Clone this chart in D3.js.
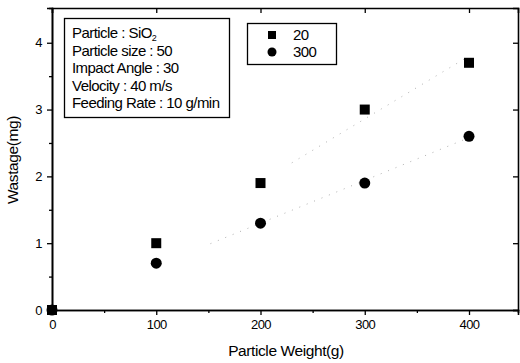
<!DOCTYPE html>
<html>
<head>
<meta charset="utf-8">
<script src="https://cdn.jsdelivr.net/npm/d3@7"></script>
<style>
  body { margin: 0; background: #fff; }
  svg { font-family: "Liberation Sans", Arial, sans-serif; }
</style>
</head>
<body>
<div id="chart"></div>
<script>
const weights = [0, 100, 200, 300, 400];
const wastage20 = [0, 1.0, 1.9, 3.0, 3.7];
const wastage300 = [0, 0.7, 1.3, 1.9, 2.6];
const xTicks = [0, 100, 200, 300, 400];
const yTicks = [0, 1, 2, 3, 4];
const infoLines = ['Particle : SiO', 'Particle size : 50', 'Impact Angle : 30', 'Velocity : 40 m/s', 'Feeding Rate : 10 g/min'];
const seriesNames = ['20', '300'];

const width = 520, height = 363;
const margin = { top: 8, right: 2, bottom: 53, left: 52 };

const svg = d3.select('#chart').append('svg')
    .attr('width', width)
    .attr('height', height);

const x = d3.scaleLinear().domain([0, 447]).range([margin.left, width - margin.right]);
const y = d3.scaleLinear().domain([0, 4.52]).range([height - margin.bottom, margin.top]);

// bottom / left axes, ticks outward
svg.append('g')
    .attr('transform', 'translate(0,' + y(0) + ')')
    .call(d3.axisBottom(x).tickValues(xTicks).tickSize(5).tickPadding(5).tickFormat(d3.format('d')));
svg.append('g')
    .attr('transform', 'translate(0,' + y(0) + ')')
    .call(d3.axisBottom(x).tickValues([50, 150, 250, 350]).tickSize(3).tickFormat(''));

svg.append('g')
    .attr('transform', 'translate(' + x(0) + ',0)')
    .call(d3.axisLeft(y).tickValues(yTicks).tickSize(5).tickPadding(5).tickFormat(d3.format('d')));
svg.append('g')
    .attr('transform', 'translate(' + x(0) + ',0)')
    .call(d3.axisLeft(y).tickValues([0.5, 1.5, 2.5, 3.5]).tickSize(3).tickFormat(''));

// top / right mirror axes, ticks inward
svg.append('g')
    .attr('transform', 'translate(0,' + margin.top + ')')
    .call(d3.axisBottom(x).tickValues(xTicks).tickSize(5).tickFormat(''));
svg.append('g')
    .attr('transform', 'translate(' + (width - margin.right) + ',0)')
    .call(d3.axisLeft(y).tickValues(yTicks).tickSize(5).tickFormat(''));

svg.selectAll('.domain').attr('stroke', '#000').attr('stroke-width', 1.6);
svg.selectAll('.tick line').attr('stroke', '#000').attr('stroke-width', 1.3);
svg.selectAll('.tick text').attr('font-size', 13).attr('fill', '#000')
    .attr('letter-spacing', -0.6)
    .attr('font-family', '"Liberation Sans", Arial, sans-serif');

// axis titles
svg.append('text')
    .attr('x', 286).attr('y', 356)
    .attr('text-anchor', 'middle')
    .attr('font-size', 15.5)
    .attr('letter-spacing', -0.4)
    .text('Particle Weight(g)');
svg.append('text')
    .attr('transform', 'translate(18,160) rotate(-90)')
    .attr('text-anchor', 'middle')
    .attr('font-size', 15.5)
    .attr('letter-spacing', -0.4)
    .text('Wastage(mg)');

// linear fit lines (dotted)
function fit(xs, ys) {
    const mx = d3.mean(xs), my = d3.mean(ys);
    let sxy = 0, sxx = 0;
    for (let i = 0; i < xs.length; i++) {
        sxy += (xs[i] - mx) * (ys[i] - my);
        sxx += (xs[i] - mx) * (xs[i] - mx);
    }
    const b = sxy / sxx;
    return { a: my - b * mx, b: b };
}
const line = d3.line().x(d => x(d[0])).y(d => y(d[1]));
[wastage20, wastage300].forEach((vals, k) => {
    const f = fit(weights, vals);
    const x0 = k === 0 ? 230 : 152;
    svg.append('path')
        .attr('d', line([[x0, f.a + f.b * x0], [395, f.a + f.b * 395]]))
        .attr('fill', 'none')
        .attr('stroke', '#b0b0b0')
        .attr('stroke-width', 1)
        .attr('stroke-dasharray', '1,7');
});

// markers
svg.append('g').selectAll('rect')
    .data(weights.map((w, i) => [w, wastage20[i]]))
    .enter()
    .append('rect')
    .attr('x', d => x(d[0]) - 5)
    .attr('y', d => y(d[1]) - 5)
    .attr('width', 10)
    .attr('height', 10)
    .attr('fill', '#000');

svg.append('g').selectAll('circle')
    .data(weights.map((w, i) => [w, wastage300[i]]))
    .enter()
    .append('circle')
    .attr('cx', d => x(d[0]))
    .attr('cy', d => y(d[1]))
    .attr('r', 5.5)
    .attr('fill', '#000');

// info box
const info = svg.append('g');
info.append('rect')
    .attr('x', 64.5).attr('y', 18.5)
    .attr('width', 165).attr('height', 99)
    .attr('fill', '#fff').attr('stroke', '#000').attr('stroke-width', 1.3);
info.selectAll('text')
    .data(infoLines)
    .enter()
    .append('text')
    .attr('x', 72)
    .attr('y', (d, i) => 38 + i * 17.5)
    .attr('font-size', 15)
    .attr('letter-spacing', -0.55)
    .text(d => d);
info.select('text')
    .append('tspan')
    .attr('font-size', 9)
    .attr('dy', 3)
    .text('2');

// series legend
const leg = svg.append('g');
leg.append('rect')
    .attr('x', 247.5).attr('y', 23.5)
    .attr('width', 89).attr('height', 41)
    .attr('fill', '#fff').attr('stroke', '#000').attr('stroke-width', 1.3);
leg.append('rect')
    .attr('x', 268).attr('y', 31).attr('width', 8).attr('height', 8).attr('fill', '#000');
leg.append('circle')
    .attr('cx', 272).attr('cy', 52).attr('r', 4.5).attr('fill', '#000');
leg.selectAll('text')
    .data(seriesNames)
    .enter()
    .append('text')
    .attr('x', 293)
    .attr('y', (d, i) => 40 + i * 17)
    .attr('font-size', 15)
    .attr('letter-spacing', -0.6)
    .text(d => d);
</script>
</body>
</html>
